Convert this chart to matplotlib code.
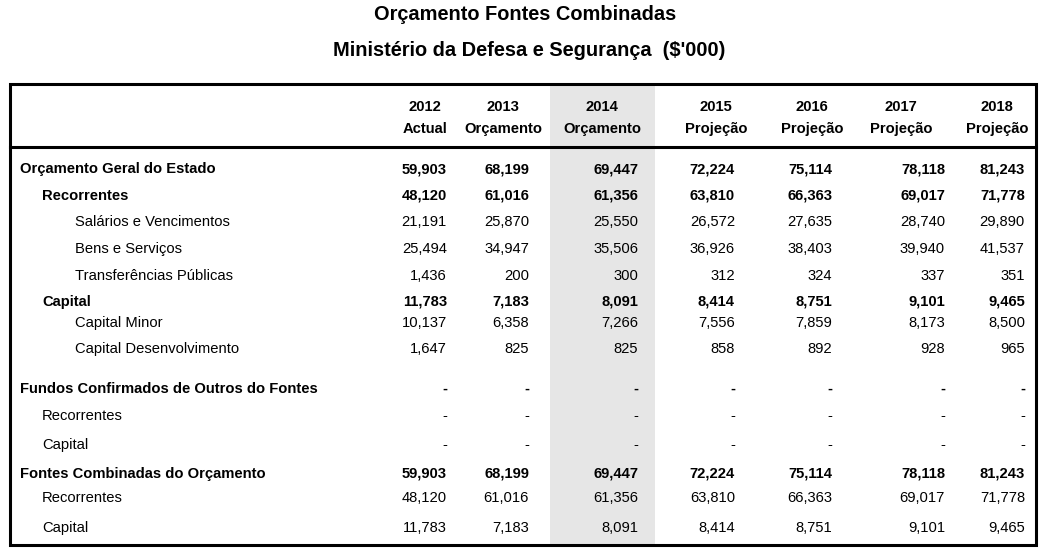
import matplotlib.pyplot as plt
from matplotlib.patches import Rectangle

plt.rcParams['font.family'] = ['Liberation Sans', 'DejaVu Sans']

titulo1 = 'Orçamento Fontes Combinadas'
titulo2 = "Ministério da Defesa e Segurança  ($'000)"

anos = ['2012', '2013', '2014', '2015', '2016', '2017', '2018']
tipos = ['Actual', 'Orçamento', 'Orçamento', 'Projeção', 'Projeção', 'Projeção', 'Projeção']

# rótulo, nível de recuo, negrito
linhas = [
    ('Orçamento Geral do Estado', 0, True),
    ('Recorrentes', 1, True),
    ('Salários e Vencimentos', 2, False),
    ('Bens e Serviços', 2, False),
    ('Transferências Públicas', 2, False),
    ('Capital', 1, True),
    ('Capital Minor', 2, False),
    ('Capital Desenvolvimento', 2, False),
    ('Fundos Confirmados de Outros do Fontes', 0, True),
    ('Recorrentes', 1, False),
    ('Capital', 1, False),
    ('Fontes Combinadas do Orçamento', 0, True),
    ('Recorrentes', 1, False),
    ('Capital', 1, False),
]

valores = [
    ['59,903', '68,199', '69,447', '72,224', '75,114', '78,118', '81,243'],
    ['48,120', '61,016', '61,356', '63,810', '66,363', '69,017', '71,778'],
    ['21,191', '25,870', '25,550', '26,572', '27,635', '28,740', '29,890'],
    ['25,494', '34,947', '35,506', '36,926', '38,403', '39,940', '41,537'],
    ['1,436', '200', '300', '312', '324', '337', '351'],
    ['11,783', '7,183', '8,091', '8,414', '8,751', '9,101', '9,465'],
    ['10,137', '6,358', '7,266', '7,556', '7,859', '8,173', '8,500'],
    ['1,647', '825', '825', '858', '892', '928', '965'],
    ['-'] * 7,
    ['-'] * 7,
    ['-'] * 7,
    ['59,903', '68,199', '69,447', '72,224', '75,114', '78,118', '81,243'],
    ['48,120', '61,016', '61,356', '63,810', '66,363', '69,017', '71,778'],
    ['11,783', '7,183', '8,091', '8,414', '8,751', '9,101', '9,465'],
]

# posições em pixels
y_linhas = [169, 196, 222, 249, 276, 302, 323, 349, 389, 416, 445, 474, 498, 528]
x_recuo = [20, 42, 75]
x_dir = [447, 529, 638, 735, 832, 945, 1025]
x_cab = [425, 503, 602, 716, 812, 901, 997]

fig = plt.figure(figsize=(10.46, 5.55), dpi=100)
ax = fig.add_axes([0, 0, 1, 1])
ax.set_xlim(0, 1046)
ax.set_ylim(555, 0)
ax.axis('off')

# coluna destacada (2014)
ax.add_patch(Rectangle((550, 84), 105, 461, facecolor='#e6e6e6', edgecolor='none', zorder=0))

# moldura e linha do cabeçalho
ax.add_patch(Rectangle((10, 84), 1026, 461, facecolor='none', edgecolor='black', linewidth=2.2, zorder=3))
ax.plot([10, 1036], [147, 147], color='black', linewidth=2.2, zorder=3)

ax.text(525, 15, titulo1, ha='center', va='center', fontsize=14.4, fontweight='bold')
ax.text(529, 50, titulo2, ha='center', va='center', fontsize=14.4, fontweight='bold')

fs = 10.6
for x, ano, tipo in zip(x_cab, anos, tipos):
    ax.text(x, 107, ano, ha='center', va='center', fontsize=fs, fontweight='bold')
    ax.text(x, 129, tipo, ha='center', va='center', fontsize=fs, fontweight='bold')

for (rotulo, nivel, negrito), y, vals in zip(linhas, y_linhas, valores):
    peso = 'bold' if negrito else 'normal'
    ax.text(x_recuo[nivel], y, rotulo, ha='left', va='center', fontsize=fs, fontweight=peso)
    for x, v in zip(x_dir, vals):
        ax.text(x, y, v, ha='right', va='center', fontsize=fs, fontweight=peso)

fig.savefig('out.png', dpi=100)
